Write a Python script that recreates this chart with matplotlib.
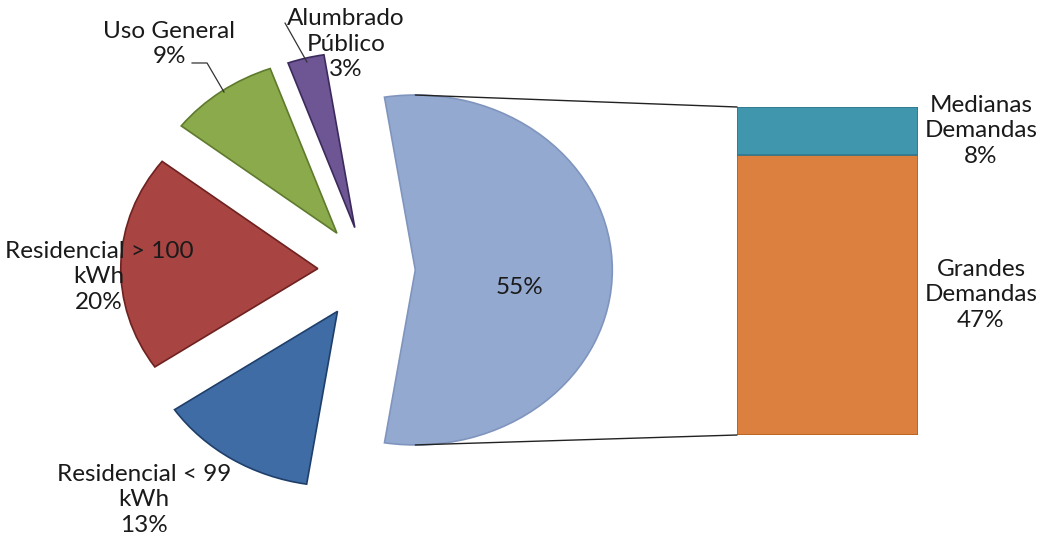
import matplotlib.pyplot as plt
from matplotlib.patches import ConnectionPatch
import numpy as np

plt.rcParams['font.family'] = ['Lato', 'DejaVu Sans']

# consumo por sector (%)
pie_labels = ["", "Alumbrado\nPúblico\n3%", "Uso General\n9%",
              "Residencial > 100\nkWh\n20%", "Residencial < 99\nkWh\n13%"]
pie_values = [55, 3, 9, 20, 13]
pie_colors = ["#94A9D0", "#6E5594", "#8BAA4C", "#A84442", "#3F6CA4"]
pie_edges = ["#8095BE", "#3B2A5C", "#5E7A2C", "#6E2220", "#1F3F6B"]
explode = [0.245, 0.25, 0.26, 0.25, 0.28]

# desglose del 55% en barras
bar_labels = ["Grandes\nDemandas\n47%", "Medianas\nDemandas\n8%"]
bar_values = [47, 8]
bar_colors = ["#DB803E", "#4096AD"]
bar_edges = ["#B8601E", "#2D7890"]

fig = plt.figure(figsize=(10.4, 5.41), dpi=100)
ax = fig.add_axes([0, 0, 1, 1])

start = -pie_values[0] / 100 * 360 / 2
wedges, _ = ax.pie(pie_values, colors=pie_colors, explode=explode,
                   startangle=start, counterclock=True,
                   wedgeprops=dict(linewidth=1.2))
for w, ec in zip(wedges, pie_edges):
    w.set_edgecolor(ec)

ax.set_aspect('auto')
ax.set_xlim(-1.863, 3.416)
ax.set_ylim(-1.549, 1.543)
ax.axis('off')

fs = 17.5
ls = 1.27
tc = "#1a1a1a"
txt = dict(ha='center', va='center', fontsize=fs, linespacing=ls, color=tc)
ax.text(0.772, -0.103, "55%", **txt)
ax.text(-1.005, 1.291, pie_labels[2], **txt)
ax.text(-0.107, 1.291, pie_labels[1], **txt)
ax.text(-1.36, -0.04, pie_labels[3], **txt)
ax.text(-1.132, -1.314, pie_labels[4], **txt)

# lineas guia
ax.plot([-0.888, -0.812, -0.726], [1.183, 1.183, 1.017], color="#333333", lw=0.9)
ax.plot([-0.416, -0.305], [1.411, 1.189], color="#333333", lw=0.9)

# barra apilada
bax = fig.add_axes([737 / 1040, (541 - 435) / 541, 181 / 1040, 328 / 541])
bottom = 0
for v, c, ec, lab in zip(bar_values, bar_colors, bar_edges, bar_labels):
    bax.bar(0, v, width=1, bottom=bottom, color=c, edgecolor=ec, linewidth=1.2)
    bax.text(0.848, bottom + v / 2, lab, clip_on=False, **txt)
    bottom += v
bax.set_xlim(-0.5, 0.5)
bax.set_ylim(0, sum(bar_values))
bax.axis('off')

# lineas de conexion entre la porcion y la barra
w0 = wedges[0]
cx, cy = w0.center
r = w0.r
for ang, yb in [(90, sum(bar_values)), (-90, 0)]:
    xp = cx + r * np.cos(np.radians(ang))
    yp = cy + r * np.sin(np.radians(ang))
    con = ConnectionPatch(xyA=(-0.5, yb), coordsA=bax.transData,
                          xyB=(xp, yp), coordsB=ax.transData,
                          color="#222222", lw=1)
    fig.add_artist(con)

plt.savefig("out.png", dpi=100)
